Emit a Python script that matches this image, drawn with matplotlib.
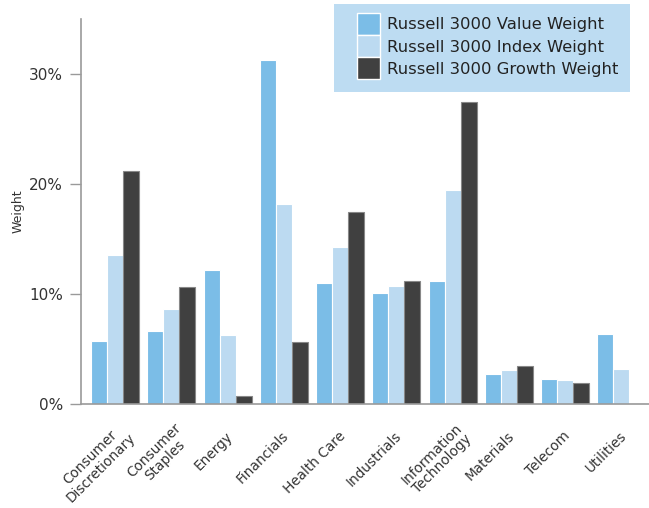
import numpy as np
import matplotlib.pyplot as plt
from matplotlib.patches import Rectangle
from matplotlib.ticker import FuncFormatter
from matplotlib.transforms import ScaledTranslation

plt.rcParams['font.family'] = ['DejaVu Sans']

sectors = ["Consumer\nDiscretionary", "Consumer\nStaples", "Energy", "Financials",
           "Health Care", "Industrials", "Information\nTechnology", "Materials",
           "Telecom", "Utilities"]
value_w = [5.75, 6.6, 12.2, 31.3, 11.0, 10.1, 11.2, 2.7, 2.3, 6.4]
index_w = [13.6, 8.6, 6.3, 18.2, 14.3, 10.7, 19.5, 3.1, 2.15, 3.15]
growth_w = [21.2, 10.6, 0.7, 5.6, 17.5, 11.2, 27.5, 3.5, 1.9, 0.0]

c_value = "#7bbde7"
c_index = "#bcdaf1"
c_growth = "#404040"
txt = "#333333"
axc = "#9a9a9a"

W, H = 649, 508
fig = plt.figure(figsize=(W / 100, H / 100), dpi=100)
ax = fig.add_axes([81 / W, (H - 404) / H, (W - 81) / W, (404 - 19.3) / H])

x = np.arange(len(sectors))
bw = 0.284
ax.bar(x - bw, value_w, bw, color=c_value, edgecolor="white", linewidth=0.8,
       label="Russell 3000 Value Weight")
ax.bar(x, index_w, bw, color=c_index, edgecolor="white", linewidth=0.8,
       label="Russell 3000 Index Weight")
ax.bar(x + bw, growth_w, bw, color=c_growth, edgecolor="#888888", linewidth=0.8,
       label="Russell 3000 Growth Weight")

ax.set_xlim(-0.604, 9.49)
ax.set_ylim(0, 35)
ax.set_yticks([0, 10, 20, 30])
ax.yaxis.set_major_formatter(FuncFormatter(lambda v, p: f"{v:.0f}%"))

for s in ["top", "right"]:
    ax.spines[s].set_visible(False)
for s in ["left", "bottom"]:
    ax.spines[s].set_color(axc)
    ax.spines[s].set_linewidth(1.2)

ax.tick_params(axis="y", length=8, width=1, color=axc, labelsize=11,
               labelcolor=txt, pad=5)
ax.tick_params(axis="x", length=0, pad=20)
ax.set_xticks(x)
ax.set_xticklabels(sectors, rotation=45, ha="right", va="center",
                   multialignment="center", fontsize=9.8, color=txt,
                   rotation_mode="anchor", linespacing=1.05)
# nudge labels (pixels): two-line labels sit further right in the original
for lab, name in zip(ax.get_xticklabels(), sectors):
    dx, dy = (13, 1) if "\n" in name else (3, -2)
    lab.set_transform(lab.get_transform() +
                      ScaledTranslation(dx / 100, dy / 100, fig.dpi_scale_trans))

ax.set_ylabel("Weight", fontsize=9, color=txt, labelpad=3)

# legend background box
ax.add_patch(Rectangle((334 / W, 1 - 92 / H), (630 - 334) / W, 88 / H,
                       transform=fig.transFigure, facecolor="#bddcf2",
                       edgecolor="none", zorder=4, clip_on=False))
leg = ax.legend(loc="upper left", bbox_to_anchor=(357 / W, 1 - 13 / H),
                bbox_transform=fig.transFigure, frameon=False, fontsize=11.8,
                handlelength=1.4, handleheight=1.7, labelspacing=0.0,
                handletextpad=0.45, borderpad=0, borderaxespad=0)
leg.set_zorder(5)
for t in leg.get_texts():
    t.set_color("#222222")
for hnd in leg.legend_handles:
    hnd.set_edgecolor("white")
    hnd.set_linewidth(1)

fig.savefig("out.png", dpi=100)
